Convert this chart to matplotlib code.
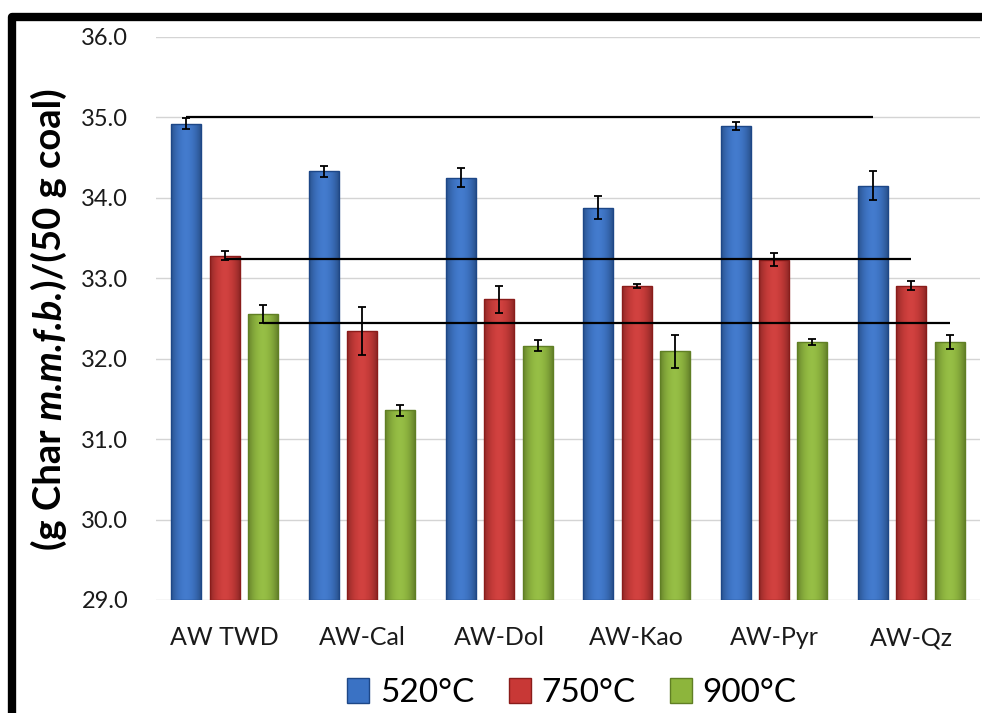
import numpy as np
import matplotlib
matplotlib.use("Agg")
import matplotlib.pyplot as plt
from matplotlib.lines import Line2D
from matplotlib.patches import Patch
from matplotlib.colors import to_rgb

# ---- data ----
categories = ["AW TWD", "AW-Cal", "AW-Dol", "AW-Kao", "AW-Pyr", "AW-Qz"]
series_names = ["520°C", "750°C", "900°C"]
char_520 = [34.92, 34.33, 34.25, 33.88, 34.89, 34.15]
err_520 = [0.07, 0.07, 0.12, 0.14, 0.05, 0.18]
char_750 = [33.28, 32.34, 32.74, 32.91, 33.23, 32.91]
err_750 = [0.055, 0.30, 0.17, 0.025, 0.08, 0.06]
char_900 = [32.56, 31.36, 32.16, 32.09, 32.21, 32.21]
err_900 = [0.11, 0.07, 0.07, 0.20, 0.04, 0.09]
# reference levels drawn across each series (first to last group)
ref_levels = [35.0, 33.24, 32.45]
yticks = [29.0, 30.0, 31.0, 32.0, 33.0, 34.0, 35.0, 36.0]
ylabel_parts = [("(g Char", "normal"), ("m.m.f.b.", "italic"), (")/(50 g coal)", "normal")]

values = [char_520, char_750, char_900]
errors = [err_520, err_750, err_900]
face_colors = ["#3a72c4", "#c83836", "#8db53c"]
edge_colors = ["#1d4787", "#8a1c1a", "#607f24"]

plt.rcParams["font.family"] = ["Lato", "DejaVu Sans"]

W, H = 982, 713
fig = plt.figure(figsize=(W / 100, H / 100), dpi=100)
ax = fig.add_axes([156 / W, 1 - 600 / H, (980 - 156) / W, (600 - 37) / H])

x = np.arange(len(categories))
bar_w = 0.218
step = 0.279


def shade_bar(bar, color):
    """Fill a bar with a horizontal gradient: darker at the sides."""
    x0, y0 = bar.get_x(), bar.get_y()
    w, h = bar.get_width(), bar.get_height()
    base = np.array(to_rgb(color))
    t = np.linspace(-1, 1, 64)
    k = 1.0 - 0.28 * np.abs(t) ** 2.2
    grad = np.clip(base[None, :] * k[:, None] + 0.04 * (1 - np.abs(t))[:, None], 0, 1)
    img = grad[None, :, :]
    im = ax.imshow(img, extent=[x0, x0 + w, y0, y0 + h], aspect="auto",
                   zorder=2, interpolation="bilinear")
    im.set_clip_path(bar)


for i, (vals, errs) in enumerate(zip(values, errors)):
    pos = x + (i - 1) * step
    bars = ax.bar(pos, np.array(vals) - 29.0, bottom=29.0, width=bar_w,
                  color=face_colors[i], edgecolor=edge_colors[i], linewidth=1.0,
                  zorder=3)
    for b in bars:
        shade_bar(b, face_colors[i])
        b.set_facecolor("none")
    ax.errorbar(pos, vals, yerr=errs, fmt="none", ecolor="black",
                elinewidth=1.3, capsize=3.0, capthick=1.3, zorder=5)
    # horizontal reference line from the first to the last group of the series
    ax.hlines(ref_levels[i], pos[0], pos[-1], colors="black", linewidth=1.6, zorder=6)

ax.set_xlim(-0.5, len(categories) - 0.5)
ax.set_ylim(29.0, 36.0)
ax.set_yticks(yticks)
ax.set_yticklabels([f"{v:.1f}" for v in yticks])
ax.set_xticks(x)
ax.set_xticklabels(categories)
ax.tick_params(axis="y", length=0, pad=20, labelsize=17, colors="#1a1a1a")
ax.tick_params(axis="x", length=0, pad=19, labelsize=18, colors="#1a1a1a")
ax.grid(axis="y", color="#d4d4d4", linewidth=1.0, zorder=0)
ax.set_axisbelow(True)
for s in ax.spines.values():
    s.set_visible(False)

# y-axis title built from upright and italic pieces sharing one baseline
renderer = fig.canvas.get_renderer()
label_kw = dict(fontsize=27.5, fontweight="bold", color="black")


def text_width(s, style):
    t = fig.text(0, 0, s, fontstyle=style, **label_kw)
    w = t.get_window_extent(renderer).width
    t.remove()
    return w


space_w = text_width("a a", "normal") - text_width("aa", "normal")
widths = [text_width(s, st) for s, st in ylabel_parts]
gaps = [space_w, 0.0]
total = sum(widths) + sum(gaps)
center_y = (H - 319)            # pixels from bottom
baseline_x = 61                  # pixels from left
cur = center_y - total / 2
for k, ((s, st), w) in enumerate(zip(ylabel_parts, widths)):
    fig.text(baseline_x / W, cur / H, s, fontstyle=st, rotation=90,
             rotation_mode="anchor", ha="left", va="baseline", **label_kw)
    cur += w + (gaps[k] if k < len(gaps) else 0)

handles = [Patch(facecolor=face_colors[i], edgecolor=edge_colors[i], linewidth=1.0)
           for i in range(3)]
fig.legend(handles, series_names, loc="center", ncol=3, frameon=False,
           bbox_to_anchor=(572 / W, 1 - 693 / H), fontsize=24,
           handlelength=0.65, handleheight=0.78, handletextpad=0.32,
           columnspacing=1.05, borderpad=0.0)

# outer frame (left and top edges)
fx, fy = 11.5 / W, 1 - 17 / H
fig.add_artist(Line2D([fx, fx, 1.05], [-0.05, fy, fy], transform=fig.transFigure,
                      color="black", linewidth=6.0, solid_joinstyle="round",
                      solid_capstyle="butt"))

fig.savefig("out.png", dpi=100)
